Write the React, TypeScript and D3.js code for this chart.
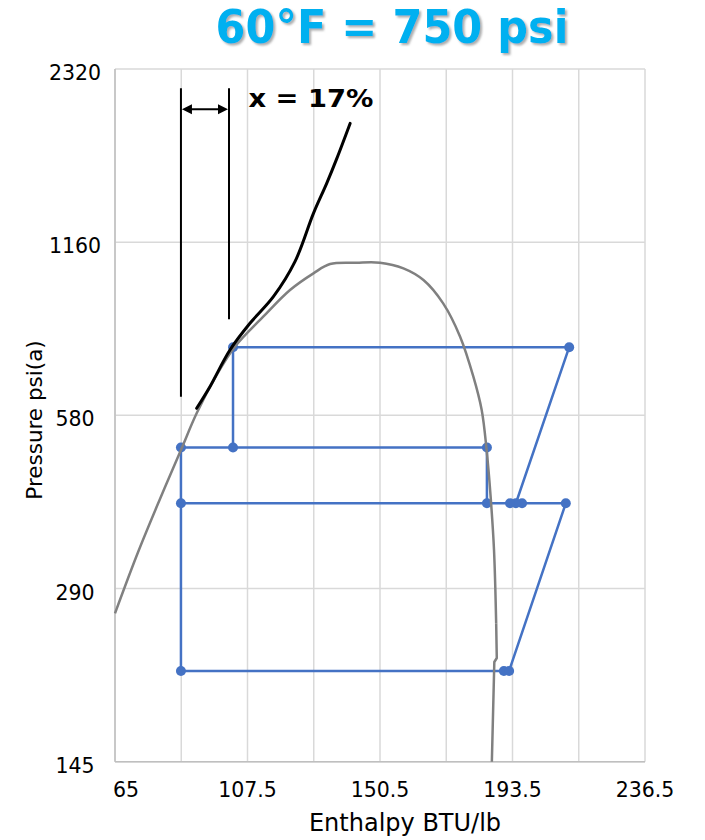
import React from "react";
import * as d3 from "d3";

// ---- Data ----
const xGrid = [64.5, 86, 107.5, 129, 150.5, 172, 193.5, 215, 236.5];
const xTicks = [64.5, 107.5, 150.5, 193.5, 236.5];
const xTickLabels = ["65", "107.5", "150.5", "193.5", "236.5"];
const yTicks = [145, 290, 580, 1160, 2320];
const yTickLabels = ["145", "290", "580", "1160", "2320"];

// saturation dome (enthalpy BTU/lb, pressure psia) – smooth upper part
const domeH = [64.5, 72.0, 79.1, 85.9, 91.0, 97.5, 103.4, 112.6, 121.3, 128.9, 134.3, 142.9, 150.5, 158.1, 164.6, 171.0, 176.5, 180.8, 183.5, 185.1, 186.4, 187.5, 188.2];
const domeP = [262.6, 335.6, 415, 504.9, 584.8, 681.7, 763.4, 860.7, 957.9, 1024, 1063, 1068.5, 1068.5, 1044.7, 997, 908, 794.6, 677, 592.5, 504.9, 418.8, 338.3, 252.3];
// saturated vapour tail near the bottom (straight pieces)
const domeTailH = [188.2, 188.4, 187.6, 186.8];
const domeTailP = [252.3, 219.6, 216.1, 145];

// black isotherm line
const isoH = [91.0, 95.3, 101.8, 108.3, 115.9, 122.9, 128.9, 133.2, 136.5, 140.8];
const isoP = [596.6, 650.5, 753.4, 838.4, 932.6, 1072.9, 1302, 1468, 1622.6, 1866];

// refrigeration cycle (blue)
const lowStage: [number, number][] = [[85.9, 208.5], [190.7, 208.5], [192.4, 208.5], [210.8, 408], [196.6, 408], [194.6, 408], [192.7, 408], [185.2, 408], [85.9, 408], [85.9, 208.5]];
const highStage: [number, number][] = [[194.6, 408], [211.9, 762], [102.8, 762], [102.8, 510], [185.2, 510], [185.2, 408]];
const flashLine: [number, number][] = [[102.8, 510], [85.9, 510], [85.9, 408]];

// quality annotation
const qualityLeftH = 85.9;
const qualityRightH = 101.5;
const qualityTopP = 2148;
const qualityLeftBottomP = 625;
const qualityRightBottomP = 852;
const arrowP = 1974;
const qualityLabel = "x = 17%";
const qualityLabelH = 107.8;
const qualityLabelP = 1995;

const title = "60°F = 750 psi";
const xTitle = "Enthalpy BTU/lb";
const yTitle = "Pressure psi(a)";

export default function App() {
  const W = 705, H = 840;
  const L = 115, R = 645, T = 69, B = 761.7;
  const x = d3.scaleLinear().domain([64.5, 236.5]).range([L, R]);
  const y = d3.scaleLog().domain([145, 2320]).range([B, T]);

  const line = d3.line<[number, number]>().x(d => x(d[0])).y(d => y(d[1]));
  const smooth = d3.line<[number, number]>().x(d => x(d[0])).y(d => y(d[1])).curve(d3.curveCatmullRom.alpha(0.5));

  const dome = domeH.map((h, i) => [h, domeP[i]] as [number, number]);
  const domeTail = domeTailH.map((h, i) => [h, domeTailP[i]] as [number, number]);
  const iso = isoH.map((h, i) => [h, isoP[i]] as [number, number]);
  const cycles = [lowStage, highStage, flashLine];
  const dots: [number, number][] = [];
  const seen = new Set<string>();
  cycles.forEach(c => c.forEach(p => { const k = p.join(","); if (!seen.has(k)) { seen.add(k); dots.push(p); } }));

  const blue = "#4472C4";
  const font = "'DejaVu Sans', Verdana, sans-serif";
  const ay = y(arrowP);
  const ax1 = x(qualityLeftH), ax2 = x(qualityRightH);

  return (
    <div style={{ position: "absolute", left: 0, top: 0 }}>
      <svg width={W} height={H} style={{ display: "block", background: "#fff" }}>
        <defs>
          <filter id="shadow" x="-10%" y="-20%" width="120%" height="150%">
            <feDropShadow dx="2" dy="2" stdDeviation="1.2" floodColor="#777" floodOpacity="0.6" />
          </filter>
        </defs>
        <rect x={0} y={0} width={W} height={H} fill="#fff" />
        {/* grid */}
        {xGrid.map((g, i) => (
          <line key={"xg" + i} x1={x(g)} x2={x(g)} y1={T} y2={B} stroke="#D9D9D9" strokeWidth={1.5} />
        ))}
        {yTicks.map((t, i) => (
          <line key={"yg" + i} x1={L} x2={R} y1={y(t)} y2={y(t)} stroke="#D9D9D9" strokeWidth={1.5} />
        ))}
        {/* axes */}
        <line x1={L} x2={L} y1={T} y2={B} stroke="#BFBFBF" strokeWidth={1.5} />
        <line x1={L} x2={R} y1={B} y2={B} stroke="#BFBFBF" strokeWidth={1.5} />

        {/* cycle */}
        {cycles.map((c, i) => (
          <path key={"c" + i} d={line(c) || ""} fill="none" stroke={blue} strokeWidth={2.5} strokeLinejoin="round" />
        ))}
        {dots.map((p, i) => (
          <circle key={"d" + i} cx={x(p[0])} cy={y(p[1])} r={5} fill={blue} />
        ))}

        {/* dome */}
        <path d={smooth(dome) || ""} fill="none" stroke="#808080" strokeWidth={2.5} />
        <path d={line(domeTail) || ""} fill="none" stroke="#808080" strokeWidth={2.5} strokeLinejoin="round" />
        {/* isotherm */}
        <path d={smooth(iso) || ""} fill="none" stroke="#000" strokeWidth={3} strokeLinecap="round" />

        {/* quality annotation */}
        <line x1={ax1} x2={ax1} y1={y(qualityTopP)} y2={y(qualityLeftBottomP)} stroke="#000" strokeWidth={2} />
        <line x1={ax2} x2={ax2} y1={y(qualityTopP)} y2={y(qualityRightBottomP)} stroke="#000" strokeWidth={2} />
        <line x1={ax1 + 8} x2={ax2 - 8} y1={ay} y2={ay} stroke="#000" strokeWidth={2} />
        <path d={`M${ax1 + 1},${ay} L${ax1 + 11},${ay - 5} L${ax1 + 11},${ay + 5} Z`} fill="#000" />
        <path d={`M${ax2 - 1},${ay} L${ax2 - 11},${ay - 5} L${ax2 - 11},${ay + 5} Z`} fill="#000" />
        <text x={x(qualityLabelH)} y={y(qualityLabelP)} fontFamily={font} fontWeight="bold" fontSize={24} textLength={125} lengthAdjust="spacingAndGlyphs" fill="#000">{qualityLabel}</text>

        {/* tick labels */}
        {xTicks.map((t, i) => (
          <text key={"xt" + i} x={i === 0 ? x(t) - 2 : x(t)} y={797} textAnchor={i === 0 ? "start" : "middle"} fontFamily={font} fontSize={20.5} fill="#000">{xTickLabels[i]}</text>
        ))}
        {yTicks.map((t, i) => (
          <text key={"yt" + i} x={75} y={y(t) + 4} textAnchor="middle" dominantBaseline="central" fontFamily={font} fontSize={20.5} fill="#000">{yTickLabels[i]}</text>
        ))}

        {/* axis titles */}
        <text x={405} y={831} textAnchor="middle" fontFamily={font} fontSize={24} fill="#000">{xTitle}</text>
        <text transform={`translate(42,420) rotate(-90)`} textAnchor="middle" fontFamily={font} fontSize={21.5} fill="#000">{yTitle}</text>

        {/* title */}
        <text x={392} y={43} textAnchor="middle" fontFamily={font} fontWeight="bold" fontSize={46} textLength={353} lengthAdjust="spacingAndGlyphs" fill="#00B0F0" filter="url(#shadow)">{title}</text>
      </svg>
    </div>
  );
}
